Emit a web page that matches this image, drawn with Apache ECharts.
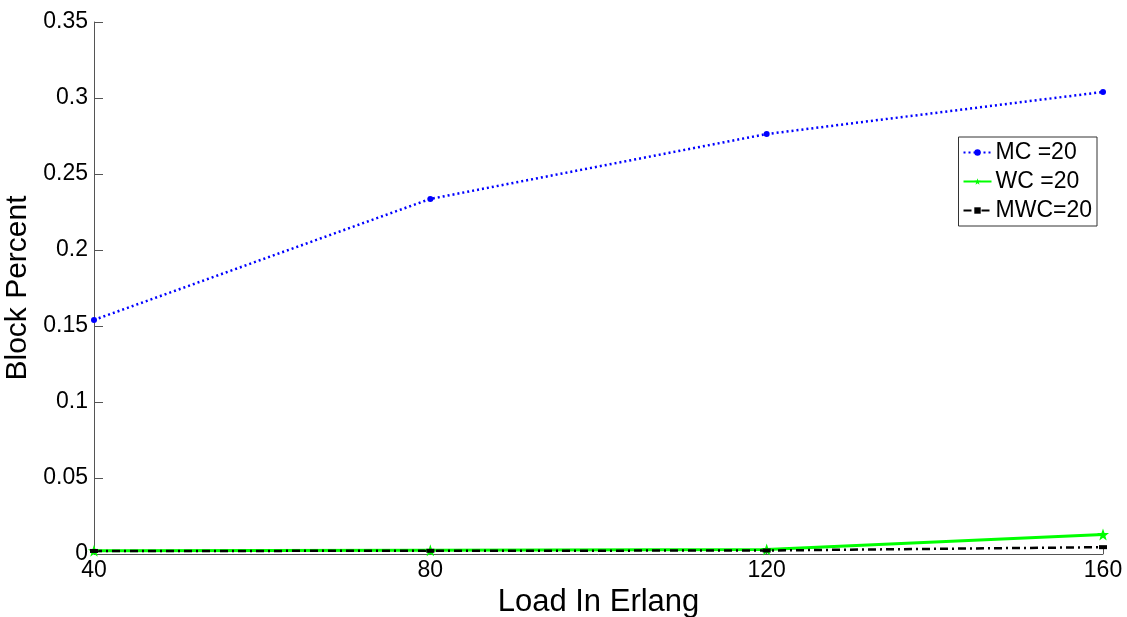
<!DOCTYPE html>
<html><head><meta charset="utf-8">
<script src="https://cdn.jsdelivr.net/npm/echarts@6/dist/echarts.min.js"></script>
<style>html,body{margin:0;padding:0;background:#fff}#c{width:1127px;height:617px}</style>
</head><body><div id="c"></div>
<script>
const loads = [40, 80, 120, 160];
const mc = [0.154, 0.2336, 0.2763, 0.304];
const wc = [0.0022, 0.0024, 0.0030, 0.0128];
const mwc = [0.0020, 0.0021, 0.0023, 0.0045];
const seriesNames = ['MC =20', 'WC =20', 'MWC=20'];
const yTicks = ['0', '0.05', '0.1', '0.15', '0.2', '0.25', '0.3', '0.35'];

const star = 'path://M0,-10 L2.4,-3.1 9.5,-3.1 3.8,1.2 5.9,8.1 0,4 -5.9,8.1 -3.8,1.2 -9.5,-3.1 -2.4,-3.1 Z';
const pts = v => loads.map((x, i) => [x, v[i]]);
const FONT = 'Liberation Sans, Arial, sans-serif';
const chart = echarts.init(document.getElementById('c'));
chart.setOption({
  animation: false,
  textStyle: {fontFamily: FONT},
  grid: {left: 94, right: 24, top: 22, bottom: 63, outerBoundsMode: 'none', containLabel: false},
  legend: {
    right: 30, top: 137, orient: 'vertical',
    borderColor: '#333', borderWidth: 1, backgroundColor: '#fff',
    padding: [4, 5, 4, 4], itemGap: 6, itemWidth: 28, itemHeight: 8,
    textStyle: {fontSize: 23, color: '#000', fontFamily: FONT, padding: [0, 0, 0, -1]},
    data: seriesNames
  },
  xAxis: {
    type: 'value', min: 40, max: 160, interval: 40,
    name: 'Load In Erlang', nameLocation: 'middle', nameGap: 30,
    nameTextStyle: {fontSize: 31, color: '#000'},
    axisLine: {lineStyle: {color: '#555', width: 1}},
    axisTick: {show: true, inside: true, length: 8, lineStyle: {color: '#555'}},
    splitLine: {show: false},
    axisLabel: {fontSize: 23, color: '#000', margin: 5}
  },
  yAxis: {
    type: 'value', min: 0, max: 0.35, interval: 0.05,
    name: 'Block Percent', nameLocation: 'middle', nameGap: 56,
    nameTextStyle: {fontSize: 30, color: '#000'},
    axisLine: {show: true, lineStyle: {color: '#555', width: 1}},
    axisTick: {show: true, inside: true, length: 9, lineStyle: {color: '#555'}},
    splitLine: {show: false},
    axisLabel: {fontSize: 23, color: '#000', margin: 6,
      formatter: (v) => yTicks[Math.round(v / 0.05)]}
  },
  series: [
    {name: seriesNames[0], type: 'line', data: pts(mc), color: '#0000ff',
     symbol: 'circle', symbolSize: 6,
     lineStyle: {type: [2, 3], width: 2.5, color: '#0000ff'},
     itemStyle: {color: '#0000ff'}},
    {name: seriesNames[1], type: 'line', data: pts(wc), color: '#00ff00',
     symbol: star, symbolSize: 12,
     lineStyle: {type: 'solid', width: 3, color: '#00ff00'},
     itemStyle: {color: '#00ff00'}},
    {name: seriesNames[2], type: 'line', data: pts(mwc), color: '#000',
     symbol: 'rect', symbolSize: [8, 4],
     lineStyle: {type: [8, 4, 2, 4], width: 2.5, color: '#000'},
     itemStyle: {color: '#000'}}
  ]
});
</script></body></html>
